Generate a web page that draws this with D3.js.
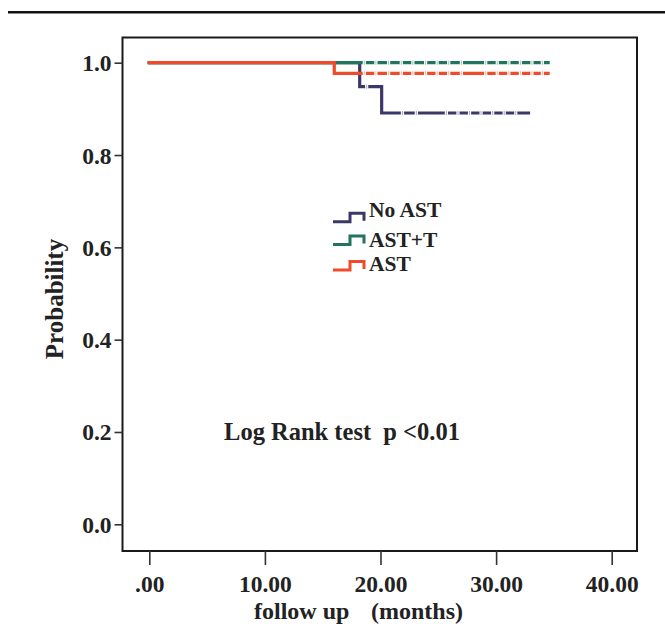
<!DOCTYPE html>
<html><head><meta charset="utf-8">
<script src="https://cdn.jsdelivr.net/npm/d3@7/dist/d3.min.js"></script>
<style>body{margin:0;background:#fff}svg{display:block}text{font-family:"Liberation Serif","Times New Roman",serif;font-weight:bold;fill:#222}</style>
</head><body><svg id="c" width="665" height="635"></svg>
<script>
// ---- data ----
const groups = ["No AST", "AST+T", "AST"];
const colors = ["#3a3868", "#23745e", "#ef4b2b"];
const xTickValues = [0, 10, 20, 30, 40];
const xTickLabels = [".00", "10.00", "20.00", "30.00", "40.00"];
const yTickValues = [0, 0.2, 0.4, 0.6, 0.8, 1.0];
const yTickLabels = ["0.0", "0.2", "0.4", "0.6", "0.8", "1.0"];
// step curves: times where survival changes, survival after that time (last = end of follow-up)
const noAstTimes = [0, 18.2, 20.1, 32.8];
const noAstSurv = [1.0, 0.948, 0.891, 0.891];
const astTTimes = [0, 34.5];
const astTSurv = [1.0, 1.0];
const astTimes = [0, 16.0, 34.5];
const astSurv = [1.0, 0.977, 0.977];
// censored observations (months)
const noAstCensor = [18.8, 21.9, 23.1, 25.7, 26.7, 27.7, 28.7, 29.7, 30.7, 31.7];
const astTCensor = [18.6, 19.6, 20.7, 21.8, 22.8, 23.9, 24.9, 25.9, 27.0, 29.1, 30.1, 31.1, 32.1, 33.1, 34.0];
const astCensor = [18.6, 19.6, 20.7, 21.8, 22.8, 23.9, 24.9, 25.9, 27.0, 29.1, 30.1, 31.1, 32.1, 33.1, 34.0];
const xTitle1 = "follow up", xTitle2 = "(months)";
const yTitle = "Probability";
const annotation = "Log Rank test  p <0.01";

const series = [
  {name: groups[0], color: colors[0], t: noAstTimes, s: noAstSurv, c: noAstCensor},
  {name: groups[1], color: colors[1], t: astTTimes, s: astTSurv, c: astTCensor},
  {name: groups[2], color: colors[2], t: astTimes, s: astSurv, c: astCensor}
];

const svg = d3.select("#c");
const x = d3.scaleLinear().domain([0, 40]).range([149.3, 611.7]);
const y = d3.scaleLinear().domain([0, 1]).range([524.3, 62.7]);
const box = {l: 122.5, r: 637, t: 37.5, b: 551};
const FONT = '"Liberation Serif","Times New Roman",serif';

// top rule
svg.append("line").attr("x1", 8).attr("x2", 665).attr("y1", 12.3).attr("y2", 12.3)
  .attr("stroke", "#111").attr("stroke-width", 2.6);

// frame
svg.append("rect").attr("x", box.l).attr("y", box.t).attr("width", box.r - box.l).attr("height", box.b - box.t)
  .attr("fill", "none").attr("stroke", "#1a1a1a").attr("stroke-width", 2);

// axes
const yAxis = d3.axisLeft(y).tickValues(yTickValues).tickFormat((d, i) => yTickLabels[i]).tickSize(8).tickPadding(3);
const gy = svg.append("g").attr("transform", `translate(${box.l},0)`).call(yAxis);
gy.select(".domain").remove();
gy.selectAll(".tick line").attr("stroke", "#333").attr("stroke-width", 1.6);
gy.selectAll(".tick text").attr("font-size", 23.5).attr("fill", "#222").attr("dy", "0.34em")
  .style("font-family", FONT).style("font-weight", "bold");

const xAxis = d3.axisBottom(x).tickValues(xTickValues).tickFormat((d, i) => xTickLabels[i]).tickSize(14).tickPadding(8);
const gx = svg.append("g").attr("transform", `translate(0,${box.b})`).call(xAxis);
gx.select(".domain").remove();
gx.selectAll(".tick line").attr("stroke", "#333").attr("stroke-width", 1.6);
gx.selectAll(".tick text").attr("font-size", 23.5).attr("fill", "#222").attr("y", 41).attr("dy", 0)
  .style("font-family", FONT).style("font-weight", "bold");

// titles
svg.append("text").attr("x", 254).attr("y", 619).attr("font-size", 24).text(xTitle1);
svg.append("text").attr("x", 371).attr("y", 619).attr("font-size", 24).text(xTitle2);
svg.append("text").attr("transform", "translate(63,299) rotate(-90)").attr("text-anchor", "middle")
  .attr("font-size", 25).text(yTitle);

// curves
const line = d3.line().x(d => x(d[0])).y(d => y(d[1])).curve(d3.curveStepAfter);
function survAt(sr, t) { let v = sr.s[0]; sr.t.forEach((tt, i) => { if (tt <= t) v = sr.s[i]; }); return v; }
series.forEach(sr => {
  const pts = sr.t.map((t, i) => [t, sr.s[i]]);
  svg.append("path").attr("d", line(pts)).attr("fill", "none").attr("stroke", sr.color)
    .attr("stroke-width", 3.2).attr("stroke-linejoin", "miter").attr("stroke-linecap", "square");
  const g = svg.append("g");
  sr.c.forEach(ct => {
    const v = survAt(sr, ct);
    g.append("rect").attr("x", x(ct) - 1.6).attr("y", y(v) - 2.2).attr("width", 3.2).attr("height", 4.4).attr("fill", "#fff");
    g.append("line").attr("x1", x(ct)).attr("x2", x(ct)).attr("y1", y(v) - 2).attr("y2", y(v) + 2)
      .attr("stroke", sr.color).attr("stroke-width", 1).attr("opacity", 0.45);
  });
});

// legend
const legY = [221.7, 244.5, 270];
const legTextY = [217, 247, 270.5];
series.forEach((sr, i) => {
  const yb = legY[i];
  svg.append("path").attr("d", `M333,${yb} H350 V${yb - 8.5} H364 V${yb - 1}`)
    .attr("fill", "none").attr("stroke", sr.color).attr("stroke-width", 3);
  svg.append("text").attr("x", 369).attr("y", legTextY[i]).attr("font-size", 21.5).text(sr.name);
});

// annotation
svg.append("text").attr("x", 342).attr("y", 440).attr("text-anchor", "middle").attr("font-size", 24.5)
  .style("white-space", "pre").text(annotation);
</script></body></html>
